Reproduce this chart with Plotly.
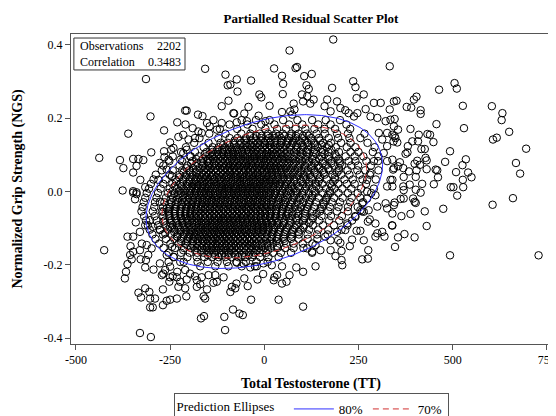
import numpy as np
import plotly.graph_objects as go

# ---------------- data ----------------
# sparse / outlying observations (x = TT residual, y = NGS residual)
outer_pts = [
    (-157,0.335),(-314,0.307),(-103,0.319),(-97,0.290),(-95,0.248),(-113,0.233),(-82,0.214),(-302,0.205),
    (-210,0.221),(-206,0.221),(-176,0.210),(-164,0.206),(-231,0.189),(-209,0.183),(-266,0.167),(-361,0.158),
    (-190,0.173),(-175,0.164),(-152,0.187),(-135,0.195),(-145,0.178),(-126,0.169),(-113,0.187),(-228,0.149),
    (-215,0.155),(-250,0.134),(-241,0.119),(-201,0.142),(-184,0.146),(-166,0.160),(-206,0.114),(-438,0.092),
    (-383,0.086),(-374,0.064),(-348,0.089),(-334,0.089),(-321,0.086),(-339,0.070),(-348,0.052),(-300,0.107),
    (-278,0.078),(-266,0.110),(-247,0.114),(-265,0.094),(-329,0.032),(-316,0.012),(-376,0.003),(-348,0.001),
    (-339,-0.002),(-281,0.032),(-259,0.060),(-245,0.042),(-254,0.087),(-223,0.087),(-215,0.105),(-197,0.096),
    (183,0.415),(67,0.385),(26,0.336),(83,0.337),(87,0.340),(333,0.342),(-73,0.306),(-35,0.303),(47,0.316),
    (106,0.315),(126,0.321),(50,0.294),(112,0.290),(118,0.280),(236,0.301),(242,0.285),(180,0.283),(-90,0.292),
    (-71,0.273),(-13,0.265),(-8,0.257),(49,0.266),(100,0.265),(114,0.260),(131,0.251),(103,0.246),(122,0.240),
    (264,0.265),(245,0.255),(14,0.234),(-42,0.231),(-53,0.213),(-80,0.213),(78,0.240),(80,0.224),(74,0.210),
    (47,0.217),(69,0.219),(167,0.251),(193,0.246),(160,0.233),(176,0.219),(202,0.228),(215,0.222),(291,0.242),
    (309,0.242),(344,0.246),(333,0.224),(269,0.225),(-15,0.207),(3,0.192),(-46,0.192),(-73,0.189),(224,0.214),
    (238,0.205),(247,0.214),(282,0.205),(300,0.201),(322,0.192),(335,0.196),(304,0.160),(326,0.160),(313,0.142),
    (326,0.124),(344,0.178),(346,0.151),(317,0.105),(326,0.083),(342,0.060),(340,0.032),(326,0.014),(291,0.083),
    (282,0.051),(273,0.032),
    (464,0.278),(505,0.296),(511,0.281),(351,0.248),(378,0.231),(390,0.229),(397,0.251),(404,0.259),(415,0.222),
    (415,0.212),(527,0.234),(604,0.233),(632,0.214),(630,0.195),(650,0.163),(607,0.142),(617,0.147),(695,0.117),
    (668,0.078),(679,0.049),(530,0.173),(457,0.184),(346,0.198),(355,0.169),(388,0.171),(410,0.155),(433,0.157),
    (440,0.155),(340,0.155),(348,0.146),(353,0.134),(343,0.137),(393,0.137),(408,0.137),(381,0.124),(449,0.135),
    (417,0.116),(426,0.116),(493,0.110),(375,0.103),(380,0.107),(428,0.092),(431,0.085),(406,0.084),(399,0.076),
    (340,0.087),(360,0.080),(355,0.069),(344,0.064),(369,0.064),(384,0.055),(404,0.058),(413,0.073),(455,0.060),
    (459,0.058),(431,0.061),(480,0.081),(535,0.088),(526,0.072),(541,0.052),(550,0.039),(527,0.032),(509,0.053),
    (461,0.039),(450,0.020),(370,0.040),(402,0.040),(369,0.014),(386,0.019),(419,0.021),(402,0.005),(335,0.032),
    (340,0.014),(495,0.012),(502,0.012),(528,0.012),
    (512,-0.011),(606,-0.036),(660,-0.018),(346,-0.030),(362,-0.020),(370,-0.019),(395,-0.019),(399,-0.028),
    (402,-0.031),(475,-0.047),(426,-0.054),(388,-0.061),(364,-0.067),(340,-0.060),(431,-0.094),(340,-0.093),
    (372,-0.116),(355,-0.125),(399,-0.125),(347,-0.151),(493,-0.174),(728,-0.174),(415,-0.003),(370,0.004),
    (273,0.0),(295,-0.010),(322,-0.032),(326,-0.046),(344,-0.037),(300,-0.041),(277,-0.051),(264,-0.055),
    (280,-0.076),(295,-0.087),(275,-0.082),(339,-0.092),(313,-0.110),(300,-0.114),(319,-0.123),(295,-0.123),
    (245,-0.107),(255,-0.107),(264,-0.133),(233,-0.131),(276,-0.160),(275,-0.183),(260,-0.185),(215,-0.105),
    (196,-0.133),(202,-0.140),(227,-0.149),(205,-0.162),(189,-0.176),(205,-0.187),(207,-0.201),(136,-0.204),
    (127,-0.167),(103,-0.219),(85,-0.207),(67,-0.228),(59,-0.246),(47,-0.251),(25,-0.242),(27,-0.234),
    (34,-0.228),(-3,-0.225),(-18,-0.240),(-53,-0.237),(-44,-0.258),(-74,-0.251),(-86,-0.260),(-90,-0.274),
    (38,-0.295),(-35,-0.295),(103,-0.314),(-83,-0.322),(-66,-0.333),(-57,-0.337),(47,-0.204),(20,-0.201),
    (-2,-0.196),(-20,-0.204),(-37,-0.207),(-55,-0.196),(-73,-0.194),(149,-0.160),(136,-0.146),(127,-0.164),
    (114,-0.155),(176,-0.160),(176,-0.133),(162,-0.123),(193,-0.110),(220,-0.087),(242,-0.069),(255,-0.051),
    (273,-0.019),(260,-0.032),
    (-425,-0.160),(-348,-0.003),(-339,-0.007),(-343,-0.021),(-277,-0.028),(-268,-0.055),(-259,-0.046),
    (-341,-0.084),(-316,-0.092),(-330,-0.110),(-303,-0.078),(-296,-0.096),(-363,-0.123),(-348,-0.123),
    (-355,-0.149),(-348,-0.164),(-325,-0.142),(-312,-0.146),(-299,-0.155),(-328,-0.185),(-314,-0.187),
    (-308,-0.173),(-356,-0.173),(-363,-0.198),(-367,-0.219),(-370,-0.237),(-316,-0.207),(-294,-0.213),
    (-330,-0.160),(-352,-0.185),(-272,-0.228),(-268,-0.224),(-250,-0.234),(-232,-0.234),(-252,-0.246),
    (-269,-0.267),(-228,-0.260),(-210,-0.264),(-207,-0.286),(-232,-0.292),(-250,-0.295),(-259,-0.298),
    (-269,-0.310),(-303,-0.316),(-296,-0.316),(-305,-0.274),(-316,-0.264),(-334,-0.276),(-327,-0.289),
    (-303,-0.292),(-290,-0.292),(-330,-0.386),(-301,-0.397),(-168,-0.346),(-160,-0.340),(-106,-0.342),
    (-104,-0.378),(-179,-0.260),(-170,-0.253),(-161,-0.286),(-157,-0.292),(-152,-0.267),(-135,-0.249),
    (-126,-0.246),(-108,-0.234),(-77,-0.264),(-243,-0.231),(-231,-0.219),(-210,-0.214),(-197,-0.224),
    (-184,-0.231),(-166,-0.234),(-206,-0.240),(-223,-0.246),(-179,-0.242),(-148,-0.228),(-130,-0.228),
    (-277,-0.196),(-254,-0.192),(-250,-0.205),(-263,-0.214),(-268,-0.082),(-250,-0.096),(-277,-0.105),
    (-263,-0.114),(-232,-0.123),(-245,-0.151),(-215,-0.160),(-259,-0.173),(-241,-0.178),(-223,-0.192),
]

# dense central cloud, estimated row by row (y level -> x values)
core_row_y = [0.195, 0.183, 0.171, 0.158, 0.146, 0.133, 0.121, 0.108, 0.096, 0.083, 0.071, 0.058, 0.046,
              0.033, 0.021, 0.008, -0.004, -0.017, -0.029, -0.042, -0.054, -0.067, -0.079, -0.092, -0.104,
              -0.117, -0.129, -0.142, -0.154, -0.167, -0.179, -0.192, -0.204]
core_row_x = [
    [-60, -22, 14, 50, 88, 127, 163, 201],
    [-92, -45, -8, 27, 66, 101, 143, 176, 218],
    [-118, -72, -31, 3, 34, 58, 83, 109, 133, 160, 188, 228],
    [-146, -103, -61, -37, -12, 10, 31, 49, 72, 91, 113, 139, 161, 193, 222, 266],
    [-172, -122, -92, -71, -49, -29, -8, 13, 29, 44, 66, 83, 101, 124, 145, 171, 196, 226, 255],
    [-186, -148, -116, -97, -81, -61, -48, -30, -17, 0, 14, 27, 45, 61, 76, 97, 114, 132, 156, 177, 204, 229, 274],
    [-208, -161, -137, -121, -104, -89, -74, -57, -46, -33, -20, -5, 8, 19, 36, 50, 67, 88, 104, 125, 142, 166, 190, 219, 242, 293],
    [-221, -184, -153, -137, -123, -110, -95, -83, -69, -59, -42, -29, -18, -6, 7, 20, 33, 45, 61, 79, 94, 112, 131, 152, 170, 198, 229, 250, 288],
    [-243, -195, -173, -155, -139, -126, -114, -99, -88, -75, -64, -51, -38, -26, -13, -1, 12, 25, 36, 50, 64, 80, 97, 113, 129, 151, 172, 191, 216, 240, 263, 303],
    [-252, -218, -191, -168, -151, -144, -130, -117, -104, -93, -81, -69, -57, -45, -34, -20, -9, 4, 16, 28, 41, 56, 70, 85, 101, 119, 136, 156, 178, 200, 224, 242, 271, 302],
    [-268, -225, -204, -183, -164, -150, -138, -128, -113, -101, -90, -79, -66, -54, -41, -31, -16, -4, 7, 18, 32, 45, 61, 77, 93, 108, 126, 143, 164, 185, 206, 231, 249, 283],
    [-272, -243, -218, -199, -178, -161, -148, -134, -124, -109, -96, -86, -73, -60, -49, -36, -25, -11, 0, 13, 26, 39, 52, 68, 82, 99, 116, 133, 155, 173, 198, 221, 247, 268, 303],
    [-288, -251, -225, -206, -190, -173, -160, -146, -137, -122, -111, -99, -89, -76, -64, -55, -41, -30, -18, -6, 6, 19, 31, 45, 59, 75, 90, 105, 121, 140, 160, 181, 204, 226, 253, 280],
    [-294, -262, -236, -215, -198, -183, -169, -156, -143, -133, -119, -106, -95, -83, -71, -58, -47, -35, -24, -12, -1, 12, 24, 37, 50, 64, 79, 96, 111, 127, 146, 166, 188, 213, 235, 261, 296],
    [-301, -268, -244, -223, -205, -191, -178, -164, -152, -141, -128, -116, -103, -91, -79, -66, -54, -43, -30, -19, -7, 5, 18, 30, 42, 57, 71, 86, 103, 118, 136, 154, 175, 196, 219, 240, 270],
    [-306, -275, -251, -232, -215, -199, -185, -173, -160, -148, -136, -122, -111, -98, -86, -74, -61, -49, -37, -25, -13, -1, 11, 24, 36, 50, 64, 78, 94, 109, 127, 145, 164, 186, 207, 231, 257, 291],
    [-312, -282, -256, -238, -221, -206, -193, -179, -166, -154, -142, -130, -117, -105, -92, -80, -68, -55, -43, -31, -19, -6, 6, 17, 29, 43, 57, 71, 86, 101, 118, 135, 155, 175, 197, 222, 248, 284],
    [-316, -286, -261, -242, -226, -211, -198, -184, -171, -159, -147, -134, -123, -110, -97, -85, -73, -61, -48, -36, -24, -12, 0, 12, 23, 37, 50, 64, 78, 93, 110, 126, 144, 165, 185, 208, 232, 255],
    [-320, -290, -265, -246, -229, -214, -201, -189, -176, -164, -152, -140, -128, -116, -104, -91, -79, -67, -54, -42, -30, -18, -6, 6, 18, 31, 44, 57, 72, 87, 103, 119, 137, 157, 179, 201, 228, 262],
    [-323, -292, -269, -250, -234, -219, -205, -193, -181, -168, -157, -145, -134, -121, -109, -97, -85, -73, -60, -48, -36, -24, -12, 0, 12, 25, 39, 52, 66, 81, 97, 114, 133, 153, 174, 197, 222, 248],
    [-326, -296, -272, -254, -238, -223, -209, -196, -184, -173, -161, -149, -137, -126, -113, -102, -90, -78, -66, -54, -42, -29, -17, -5, 7, 19, 32, 46, 60, 75, 91, 109, 127, 148, 170, 193, 222, 259],
    [-319, -291, -268, -252, -237, -222, -210, -197, -186, -174, -163, -151, -140, -128, -117, -105, -93, -81, -69, -57, -45, -34, -21, -9, 3, 16, 29, 43, 58, 74, 90, 108, 129, 152, 177, 206, 241],
    [-314, -286, -264, -247, -231, -217, -203, -191, -179, -167, -156, -144, -132, -121, -109, -97, -86, -74, -62, -50, -38, -26, -13, -1, 12, 25, 39, 53, 68, 85, 103, 124, 146, 172, 199, 233],
    [-309, -282, -260, -243, -227, -212, -199, -186, -174, -163, -151, -139, -127, -116, -104, -92, -80, -69, -57, -45, -33, -20, -7, 6, 20, 34, 49, 66, 85, 106, 129, 156, 185, 221],
    [-304, -277, -256, -238, -222, -208, -194, -182, -170, -158, -147, -135, -123, -112, -100, -88, -76, -64, -52, -40, -28, -15, -2, 12, 26, 41, 58, 76, 96, 119, 143, 170, 205],
    [-297, -269, -247, -230, -213, -199, -186, -174, -162, -151, -139, -127, -116, -104, -92, -80, -68, -56, -44, -32, -19, -6, 8, 22, 37, 54, 72, 92, 115, 140, 168],
    [-289, -261, -239, -220, -204, -190, -177, -165, -153, -141, -130, -118, -106, -94, -82, -70, -58, -46, -34, -21, -8, 6, 20, 35, 52, 71, 91, 115, 141],
    [-279, -249, -227, -209, -193, -179, -166, -153, -141, -129, -118, -106, -94, -82, -70, -58, -45, -33, -20, -6, 8, 23, 40, 58, 78, 102, 128],
    [-267, -237, -213, -195, -179, -165, -152, -139, -127, -115, -103, -91, -79, -67, -54, -41, -28, -14, 1, 17, 35, 55, 78, 104],
    [-254, -221, -198, -178, -161, -147, -133, -120, -107, -94, -81, -68, -54, -40, -26, -11, 5, 23, 44, 71],
    [-240, -204, -179, -159, -139, -121, -104, -87, -69, -51, -32, -11, 11, 38],
    [-214, -177, -150, -124, -99, -74, -49, -21, 9],
    [-170, -130, -95, -60, -25],
]

# darkest part of the cloud, second set of rows lying between the rows above
dense_row_y = [0.152, 0.139, 0.127, 0.114, 0.102, 0.089, 0.077, 0.064, 0.052, 0.039, 0.027, 0.014, 0.002,
               -0.010, -0.023, -0.035, -0.048, -0.060, -0.073, -0.085, -0.098, -0.110, -0.123, -0.135,
               -0.148, -0.160, -0.173]
dense_row_x = [
    [-38, -21, -7, 9, 22, 40, 53, 71, 84, 103, 118],
    [-79, -64, -51, -36, -22, -9, 4, 18, 34, 47, 63, 77, 92, 108, 125, 148],
    [-109, -93, -80, -66, -53, -39, -26, -12, 2, 15, 29, 42, 57, 72, 86, 101, 117, 135, 152, 171],
    [-139, -125, -112, -99, -86, -73, -61, -48, -35, -23, -10, 3, 14, 27, 41, 53, 69, 84, 98, 116, 133, 155, 178],
    [-158, -145, -132, -120, -107, -94, -81, -69, -56, -44, -32, -20, -7, 5, 18, 30, 43, 56, 70, 86, 102, 118, 138, 160, 188],
    [-181, -163, -149, -136, -123, -110, -98, -86, -74, -62, -50, -38, -26, -13, -2, 10, 22, 35, 48, 62, 76, 92, 109, 127, 146, 170, 197],
    [-194, -178, -162, -148, -133, -121, -108, -95, -83, -71, -59, -47, -35, -23, -11, 1, 13, 25, 38, 51, 65, 80, 96, 114, 133, 155, 178, 201],
    [-206, -189, -172, -157, -143, -130, -117, -104, -92, -80, -68, -55, -43, -31, -19, -7, 5, 17, 29, 43, 57, 72, 89, 106, 125, 146, 170, 198],
    [-214, -197, -182, -168, -154, -141, -128, -116, -103, -91, -79, -67, -54, -42, -30, -18, -5, 7, 20, 33, 47, 62, 78, 95, 113, 134, 158, 193],
    [-226, -208, -193, -178, -164, -151, -138, -125, -113, -100, -88, -76, -63, -51, -39, -27, -14, -2, 10, 23, 37, 52, 68, 85, 104, 124, 148, 187],
    [-233, -215, -199, -185, -171, -158, -145, -132, -120, -108, -96, -83, -71, -59, -47, -35, -22, -10, 3, 16, 30, 45, 61, 79, 98, 119, 144, 183],
    [-238, -220, -205, -191, -177, -164, -151, -139, -126, -114, -101, -89, -77, -64, -52, -40, -28, -16, -3, 10, 24, 39, 55, 72, 91, 112, 138, 179],
    [-243, -226, -211, -196, -182, -169, -157, -144, -131, -119, -107, -95, -82, -70, -58, -46, -33, -21, -9, 4, 17, 32, 48, 65, 84, 106, 133, 174],
    [-247, -230, -215, -200, -186, -173, -161, -148, -136, -124, -111, -99, -87, -75, -62, -50, -38, -26, -13, -1, 12, 27, 43, 60, 79, 101, 128, 169],
    [-249, -233, -218, -204, -190, -177, -164, -152, -139, -127, -115, -103, -90, -78, -66, -54, -41, -29, -17, -5, 8, 22, 38, 55, 74, 96, 122, 164],
    [-252, -236, -221, -207, -193, -180, -167, -155, -143, -130, -118, -106, -94, -81, -69, -57, -45, -33, -20, -8, 5, 18, 34, 51, 70, 92, 118, 158],
    [-253, -237, -222, -208, -195, -182, -169, -157, -144, -132, -120, -108, -96, -83, -71, -59, -47, -35, -22, -10, 3, 16, 31, 48, 66, 88, 113, 149],
    [-253, -238, -223, -209, -196, -183, -170, -158, -146, -133, -121, -109, -97, -85, -72, -60, -48, -36, -24, -11, 2, 15, 30, 46, 64, 85, 108, 139],
    [-251, -236, -221, -207, -194, -181, -169, -157, -144, -132, -120, -108, -96, -84, -72, -60, -47, -35, -23, -10, 3, 16, 31, 47, 65, 85, 106, 129],
    [-249, -233, -218, -204, -191, -178, -166, -154, -142, -130, -118, -106, -94, -82, -70, -57, -45, -33, -20, -7, 6, 20, 35, 52, 71, 93, 119],
    [-245, -229, -214, -200, -187, -174, -162, -150, -138, -126, -114, -102, -90, -78, -66, -53, -41, -28, -15, -2, 12, 27, 43, 61, 81, 104],
    [-239, -222, -207, -193, -180, -168, -156, -144, -132, -120, -108, -96, -84, -72, -59, -47, -34, -21, -8, 6, 21, 37, 55, 75, 91],
    [-231, -214, -199, -185, -172, -160, -148, -136, -124, -112, -100, -88, -76, -63, -51, -38, -25, -12, 2, 17, 33, 51, 74],
    [-221, -204, -189, -176, -163, -151, -139, -127, -115, -103, -91, -79, -66, -54, -41, -28, -14, 0, 15, 32, 54],
    [-204, -188, -174, -161, -148, -136, -124, -112, -100, -87, -75, -62, -49, -36, -22, -7, 9, 34],
    [-184, -168, -154, -141, -128, -115, -102, -89, -76, -63, -49, -35, -20, -4, 10],
    [-150, -131, -113, -95, -77, -59, -41, -30],
]

# summary statistics shown on the chart
n_obs = 2202
correlation = 0.3483
center_x, center_y = 0.0, 0.0
sd_x, sd_y = 175.0, 0.117
ellipse_levels = [0.80, 0.70]
ellipse_names = ["80%", "70%"]
ellipse_colors = ["#3030ff", "#d03030"]
ellipse_dash = ["solid", "6px,4px"]

x_ticks = [-500, -250, 0, 250, 500, 750]
y_ticks = [-0.4, -0.2, 0.0, 0.2, 0.4]

# ---------------- build ----------------
xs = [p[0] for p in outer_pts]
ys = [p[1] for p in outer_pts]
for row_y, row_x in ((core_row_y, core_row_x), (dense_row_y, dense_row_x)):
    for yv, row in zip(row_y, row_x):
        xs.extend(row)
        ys.extend([yv] * len(row))

FONT = "Liberation Serif"
fig = go.Figure()
fig.add_trace(go.Scatter(
    x=xs, y=ys, mode="markers", showlegend=False, hoverinfo="skip",
    marker=dict(symbol="circle-open", size=7.5, color="black", line=dict(width=1)),
))

cov = np.array([[sd_x**2, correlation*sd_x*sd_y], [correlation*sd_x*sd_y, sd_y**2]])
L = np.linalg.cholesky(cov)
t = np.linspace(0, 2*np.pi, 361)
unit = np.vstack([np.cos(t), np.sin(t)])
for p, name, col, dsh in zip(ellipse_levels, ellipse_names, ellipse_colors, ellipse_dash):
    d = np.sqrt(-2*np.log(1-p))
    pts = d * (L @ unit)
    fig.add_trace(go.Scatter(
        x=center_x + pts[0], y=center_y + pts[1], mode="lines", name=name,
        line=dict(color=col, width=1, dash=dsh), hoverinfo="skip",
    ))

axis_common = dict(showline=True, linecolor="#555", linewidth=1, mirror=True,
                   ticks="outside", ticklen=5, tickcolor="#555", showgrid=False, zeroline=False,
                   tickfont=dict(family=FONT, size=12, color="black"))
fig.update_xaxes(range=[-513, 761], tickvals=x_ticks, ticktext=[str(v) for v in x_ticks],
                 title=dict(text="<b>Total Testosterone (TT)</b>", font=dict(family=FONT, size=14, color="black"),
                            standoff=11),
                 **axis_common)
fig.update_yaxes(range=[-0.416, 0.43], tickvals=y_ticks, ticktext=[f"{v:.1f}" for v in y_ticks],
                 title=dict(text="<b>Normalized Grip Strength (NGS)</b>", font=dict(family=FONT, size=14, color="black"),
                            standoff=17),
                 **axis_common)

# inset statistics box
fig.add_shape(type="rect", xref="paper", yref="paper", x0=0.006, x1=0.2375, y0=0.884, y1=0.987,
              line=dict(color="#333", width=1), fillcolor="white", layer="above")
rows_txt = [("Observations", f"{n_obs}", 0.961), ("Correlation", f"{correlation:.4f}", 0.910)]
for lab, val, yy in rows_txt:
    fig.add_annotation(text=lab, xref="paper", yref="paper", x=0.0146, y=yy, xanchor="left", yanchor="middle",
                       showarrow=False, font=dict(family=FONT, size=12, color="black"))
    fig.add_annotation(text=val, xref="paper", yref="paper", x=0.233, y=yy, xanchor="right", yanchor="middle",
                       showarrow=False, font=dict(family=FONT, size=12, color="black"))

# page body adds an 8px offset, so the figure is 8px smaller and margins shifted
fig.update_layout(
    width=548, height=408,
    margin=dict(l=63, r=5, t=26, b=72, autoexpand=False),
    paper_bgcolor="white", plot_bgcolor="white",
    title=dict(text="<b>Partialled Residual Scatter Plot</b>", x=0.5, xref="paper", y=1-10/408, yref="container",
               xanchor="center", yanchor="middle", font=dict(family=FONT, size=13, color="black")),
    legend=dict(orientation="h", x=0.5, xanchor="center", y=-0.158, yanchor="top",
                title=dict(text="Prediction Ellipses  ", side="left", font=dict(family=FONT, size=13, color="black")),
                font=dict(family=FONT, size=13, color="black"), bordercolor="#555", borderwidth=1,
                itemwidth=40, tracegroupgap=0),
)

fig.write_html("out.html", post_script="document.body.style.overflow='hidden';")
